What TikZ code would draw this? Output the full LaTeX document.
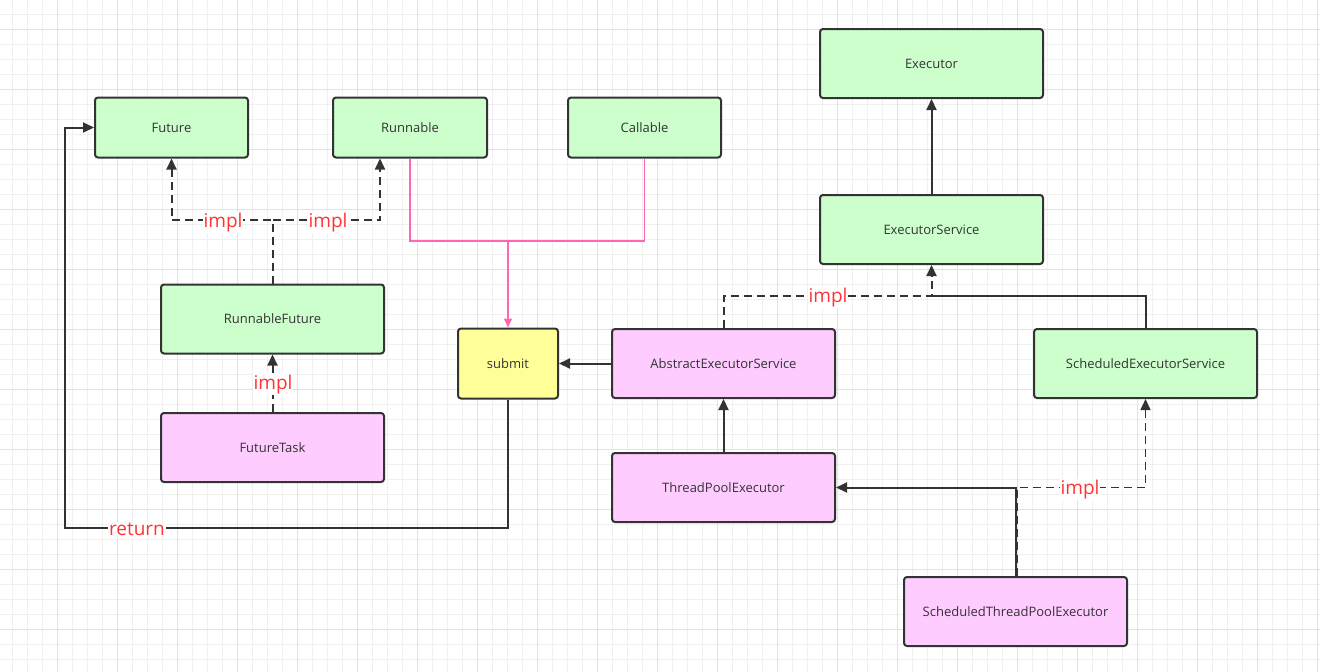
\documentclass[tikz,border=0pt]{standalone}
\usepackage{fontspec}
\setmainfont{Open Sans}
\usetikzlibrary{arrows.meta}
\definecolor{gminor}{HTML}{F0F0F0}
\definecolor{gmajor}{HTML}{E2E2E2}
\definecolor{cgreen}{HTML}{CCFFCC}
\definecolor{cpink}{HTML}{FFCCFF}
\definecolor{cyellow}{HTML}{FFFF99}
\definecolor{cline}{HTML}{333333}
\definecolor{cred}{HTML}{FF3333}
\definecolor{cmag}{HTML}{FF66B3}
\tikzset{
  box/.style={draw=cline, line width=2pt, rounded corners=3pt, minimum width=223pt, minimum height=69pt, inner sep=0pt, text=cline, font=\fontsize{13}{15}\selectfont},
  gbox/.style={box, fill=cgreen},
  pbox/.style={box, fill=cpink},
  conn/.style={draw=cline, line width=2pt},
  arr/.style={-{Triangle[length=11pt,width=10pt]}},
  implline/.style={conn, dash pattern=on 8pt off 5pt},
  pinkline/.style={draw=cmag, line width=1.5pt},
  lbl/.style={fill=white, text=cred, inner sep=1pt, font=\fontsize{19}{21}\selectfont}
}
\begin{document}
\begin{tikzpicture}[x=1pt,y=-1pt]
\useasboundingbox (0,0) rectangle (1320,672);
\fill[white] (0,0) rectangle (1320,672);
% grid
\foreach \i in {0,...,87} { \draw[gminor, line width=1pt] ({12.7+15*\i},0) -- ({12.7+15*\i},672); }
\foreach \i in {0,...,44} { \draw[gminor, line width=1pt] (0,{14.3+15*\i}) -- (1320,{14.3+15*\i}); }
\foreach \i in {0,...,21} { \draw[gmajor, line width=1pt] ({57.7+60*\i},0) -- ({57.7+60*\i},672); }
\foreach \i in {0,...,10} { \draw[gmajor, line width=1pt] (0,{29.3+60*\i}) -- (1320,{29.3+60*\i}); }

% nodes
\node[gbox] (ex) at (931.5,63.5) {Executor};
\node[gbox, minimum width=153pt, minimum height=60pt] (fut) at (171.5,127.5) {Future};
\node[gbox, minimum width=154pt, minimum height=60pt] (run) at (410,127.5) {Runnable};
\node[gbox, minimum width=153pt, minimum height=60pt] (call) at (644.5,127.5) {Callable};
\node[gbox] (es) at (931.5,229.5) {ExecutorService};
\node[gbox] (rf) at (272.5,319) {RunnableFuture};
\node[box, fill=cyellow, minimum width=100pt, minimum height=70pt] (sub) at (508,363.5) {submit};
\node[pbox] (abs) at (723.5,363.5) {AbstractExecutorService};
\node[gbox] (ses) at (1145.5,363.5) {ScheduledExecutorService};
\node[pbox] (ft) at (272.5,447.5) {FutureTask};
\node[pbox] (tpe) at (723.5,487.5) {ThreadPoolExecutor};
\node[pbox] (stpe) at (1015.5,611.5) {ScheduledThreadPoolExecutor};

% RunnableFuture -> Future / Runnable
\coordinate (rfj) at (272.5,220);
\draw[implline, arr] (rf.north) -- (rfj) -| (fut.south);
\draw[implline, arr] (rfj) -| ([xshift=-30pt]run.south);
\node[lbl] (l1) at (223,222.5) {impl};
\node[lbl] (l2) at (328,222.5) {impl};

% FutureTask -> RunnableFuture
\draw[implline, arr] (ft.north) -- (rf.south);
\node[lbl] (l3) at (273,384.5) {impl};

% Runnable / Callable -> submit
\coordinate (pj) at (508,241);
\draw[pinkline] (run.south) |- (pj);
\draw[pinkline] (call.south) |- (pj);
\draw[pinkline, -{Triangle[length=9pt,width=8pt]}] (pj) -- (sub.north);

% Abstract -> submit
\draw[conn, arr] (abs.west) -- (sub.east);

% submit -> Future (return)
\coordinate (rt) at (65,528);
\draw[conn, arr] (sub.south) |- (rt) |- (fut.west);
\node[lbl] (l4) at (137,529.5) {return};

% ExecutorService -> Executor
\draw[conn, arr] (es.north) -- (ex.south);

% Abstract -> ExecutorService (impl)
\coordinate (ej) at (931.5,296);
\draw[implline, arr] (abs.north) |- (ej) -- (es.south);
\node[lbl] (l5) at (828,297.5) {impl};
\draw[conn] (ses.north) |- (ej);

% ThreadPoolExecutor -> Abstract
\draw[conn, arr] (tpe.north) -- (abs.south);

% ScheduledThreadPoolExecutor -> ThreadPoolExecutor / ScheduledExecutorService
\draw[conn, arr] (stpe.north) |- (tpe.east);
\coordinate (sj) at (1017.5,487.5);
\draw[implline, line width=1.5pt, arr] ([xshift=2pt]stpe.north) -- (sj) -| (ses.south);
\node[lbl] (l6) at (1080,489.5) {impl};
\end{tikzpicture}
\end{document}
